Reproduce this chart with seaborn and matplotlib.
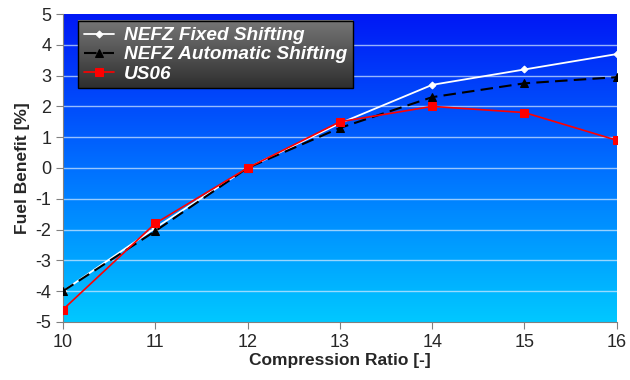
import numpy as np
import pandas as pd
import matplotlib
matplotlib.use("Agg")
import matplotlib.pyplot as plt
import seaborn as sns
from matplotlib.colors import LinearSegmentedColormap

# data
compression = [10, 11, 12, 13, 14, 15, 16]
nefz_fixed = [-4.0, -1.95, 0.0, 1.45, 2.7, 3.2, 3.7]
nefz_auto = [-4.0, -2.05, 0.0, 1.3, 2.3, 2.75, 2.95]
us06 = [-4.6, -1.8, 0.0, 1.5, 2.0, 1.8, 0.9]

sns.set_style("ticks")
plt.rcParams['font.family'] = ['Liberation Sans', 'DejaVu Sans']
plt.rcParams['axes.unicode_minus'] = False

fig = plt.figure(figsize=(6.3, 3.8), dpi=100)
ax = fig.add_axes([0.1, 0.153, 0.879, 0.81])

# blue gradient background (dark at top, cyan at bottom)
grad = np.linspace(0, 1, 256).reshape(-1, 1)
bg_cmap = LinearSegmentedColormap.from_list("bg", ["#0018f5", "#0070ff", "#00c8ff"])
ax.imshow(grad, aspect="auto", cmap=bg_cmap, extent=[10, 16, -5, 5],
          origin="upper", zorder=0)

for yv in range(-4, 5):
    ax.axhline(yv, color="#d8ecff", lw=1.0, alpha=0.7, zorder=1)

sns.lineplot(x=compression, y=nefz_fixed, ax=ax, color="white", lw=1.3,
             marker="D", markersize=3.5, markeredgecolor="white",
             label="NEFZ Fixed Shifting", zorder=3)
sns.lineplot(x=compression, y=nefz_auto, ax=ax, color="black", lw=1.5,
             linestyle=(0, (6, 3)), marker="^", markersize=6,
             markeredgecolor="black", label="NEFZ Automatic Shifting", zorder=4)
sns.lineplot(x=compression, y=us06, ax=ax, color="#ff0000", lw=1.2,
             marker="s", markersize=6, markeredgecolor="#ff0000",
             label="US06", zorder=5)

ax.set_xticks(compression)
ax.set_yticks(range(-5, 6))
ax.tick_params(labelsize=13, color="#808080", length=5)
for s in ["top", "right"]:
    ax.spines[s].set_visible(False)
for s in ["left", "bottom"]:
    ax.spines[s].set_color("#808080")
ax.set_xlabel("Compression Ratio [-]", fontsize=12.5, fontweight="bold", labelpad=2)
ax.set_ylabel("Fuel Benefit [%]", fontsize=12.5, fontweight="bold", labelpad=4)

leg = ax.legend(loc="upper left", bbox_to_anchor=(0.027, 0.977), borderaxespad=0,
                frameon=True, fancybox=False, facecolor="none", edgecolor="black",
                framealpha=1, handlelength=1.6, handletextpad=0.5,
                labelspacing=0.1, borderpad=0.3,
                prop={"size": 13.7, "weight": "bold", "style": "italic"})
for t in leg.get_texts():
    t.set_color("white")
leg.set_zorder(10)

# gray gradient behind the legend
fig.canvas.draw()
bb = leg.get_frame().get_window_extent()
(x0, y0), (x1, y1) = ax.transData.inverted().transform([[bb.x0, bb.y0], [bb.x1, bb.y1]])
leg_cmap = LinearSegmentedColormap.from_list("lg", ["#767676", "#2e2e2e"])
ax.imshow(grad, aspect="auto", cmap=leg_cmap, extent=[x0, x1, y0, y1],
          origin="upper", zorder=9)

ax.set_xlim(10, 16)
ax.set_ylim(-5, 5)

fig.savefig("out.png", dpi=100, facecolor="white")
